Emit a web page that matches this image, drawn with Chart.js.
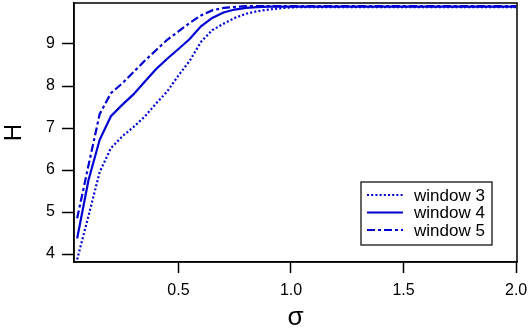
<!DOCTYPE html>
<html>
<head>
<meta charset="utf-8">
<script src="https://cdn.jsdelivr.net/npm/chart.js@4/dist/chart.umd.min.js"></script>
<style>
  html, body { margin: 0; padding: 0; background: #fff; }
  #wrap { width: 529px; height: 330px; position: relative; }
</style>
</head>
<body>
<div id="wrap"><canvas id="c" width="529" height="330"></canvas></div>
<script>
// ---- data ----
const sigma = [0.05,0.1,0.15,0.2,0.25,0.3,0.35,0.4,0.45,0.5,0.55,0.6,0.65,0.7,0.75,0.8,0.85,0.9,0.95,1.0,1.05,1.1,1.2,1.3,1.4,1.5,1.6,1.7,1.8,1.9,2.0];
const window3 = [3.87,4.9,5.95,6.52,6.8,7.02,7.27,7.58,7.87,8.25,8.6,9.05,9.33,9.48,9.62,9.72,9.78,9.82,9.85,9.87,9.88,9.88,9.88,9.88,9.88,9.88,9.88,9.88,9.88,9.88,9.88];
const window4 = [4.37,5.75,6.72,7.28,7.55,7.8,8.1,8.4,8.65,8.88,9.12,9.42,9.62,9.75,9.82,9.86,9.88,9.89,9.89,9.89,9.89,9.89,9.89,9.89,9.89,9.89,9.89,9.89,9.89,9.89,9.89];
const window5 = [4.85,6.1,7.33,7.83,8.06,8.33,8.6,8.85,9.1,9.3,9.5,9.68,9.8,9.86,9.88,9.9,9.9,9.9,9.9,9.9,9.9,9.9,9.9,9.9,9.9,9.9,9.9,9.9,9.9,9.9,9.9];
const seriesLabels = ["window 3", "window 4", "window 5"];
const xTicks = [0.5, 1.0, 1.5, 2.0];
const yTicks = [4, 5, 6, 7, 8, 9];
const xTitle = "σ";
const yTitle = "H";

// ---- styles ----
const BLUE = "rgb(0,0,210)";
const FONT = "'Liberation Sans', Arial, Helvetica, sans-serif";
const dashes = [[2, 2.2], [], [8, 3, 3, 3]];

const toXY = (vals) => sigma.map((s, i) => ({ x: s, y: vals[i] }));
const allSeries = [window3, window4, window5];

const datasets = allSeries.map((vals, i) => ({
  label: seriesLabels[i],
  data: toXY(vals),
  borderColor: BLUE,
  backgroundColor: BLUE,
  borderWidth: 2.2,
  borderDash: dashes[i],
  borderCapStyle: 'butt',
  pointRadius: 0,
  tension: 0,
  fill: false
}));

const framePlugin = {
  id: 'frame',
  afterDatasetsDraw(chart) {
    const { ctx, chartArea: a } = chart;
    ctx.save();
    ctx.strokeStyle = '#000';
    ctx.lineWidth = 1.5;
    ctx.strokeRect(a.left, a.top, a.right - a.left, a.bottom - a.top);
    ctx.restore();
  }
};

const legendPlugin = {
  id: 'boxLegend',
  afterDraw(chart) {
    const { ctx } = chart;
    const bx = 361, by = 182, bw = 131, bh = 63;
    ctx.save();
    ctx.fillStyle = '#fff';
    ctx.fillRect(bx, by, bw, bh);
    ctx.strokeStyle = '#000';
    ctx.lineWidth = 1.2;
    ctx.strokeRect(bx, by, bw, bh);
    ctx.font = "17px " + FONT;
    ctx.textBaseline = 'middle';
    ctx.fillStyle = '#000';
    chart.data.datasets.forEach((ds, i) => {
      const yc = 195 + i * 17.5;
      ctx.save();
      ctx.strokeStyle = ds.borderColor;
      ctx.lineWidth = 2;
      ctx.lineCap = 'butt';
      ctx.setLineDash(ds.borderDash || []);
      ctx.beginPath();
      ctx.moveTo(367, yc);
      ctx.lineTo(403, yc);
      ctx.stroke();
      ctx.restore();
      ctx.fillText(ds.label, 414, yc + 1);
    });
    ctx.restore();
  }
};

const zeroPad = (s) => { s.paddingTop = 0; s.paddingBottom = 0; s.paddingLeft = 0; s.paddingRight = 0; };

new Chart(document.getElementById('c'), {
  type: 'line',
  data: { datasets },
  options: {
    responsive: false,
    animation: false,
    devicePixelRatio: 1,
    layout: { padding: { left: 0, top: 3, right: 12, bottom: 0 } },
    plugins: { legend: { display: false }, tooltip: { enabled: false } },
    scales: {
      x: {
        type: 'linear',
        min: 0.036,
        max: 2.004,
        afterBuildTicks: (s) => { s.ticks = xTicks.map(v => ({ value: v })); },
        afterFit: (s) => { s.height = 68; zeroPad(s); },
        grid: { drawOnChartArea: false, drawTicks: true, tickLength: 11, tickColor: '#000', tickWidth: 1.5 },
        border: { display: true, color: '#000', width: 1.5 },
        ticks: {
          color: '#000', font: { family: FONT, size: 16 }, padding: 8, maxRotation: 0,
          callback: (v) => Number(v).toFixed(1)
        },
        title: { display: true, text: xTitle, color: '#000', font: { family: FONT, size: 26 }, padding: { top: 0, bottom: -3 } }
      },
      y: {
        type: 'linear',
        min: 3.81,
        max: 9.976,
        afterBuildTicks: (s) => { s.ticks = yTicks.map(v => ({ value: v })); },
        afterFit: (s) => { s.width = 74; zeroPad(s); },
        grid: { drawOnChartArea: false, drawTicks: true, tickLength: 12, tickColor: '#000', tickWidth: 1.5 },
        border: { display: true, color: '#000', width: 1.5 },
        ticks: { color: '#000', font: { family: FONT, size: 16 }, padding: 7, callback: (v) => String(v) },
        title: { display: true, text: yTitle, color: '#000', font: { family: FONT, size: 24 }, padding: { top: 0, bottom: 0 } }
      }
    }
  },
  plugins: [framePlugin, legendPlugin]
});
</script>
</body>
</html>
